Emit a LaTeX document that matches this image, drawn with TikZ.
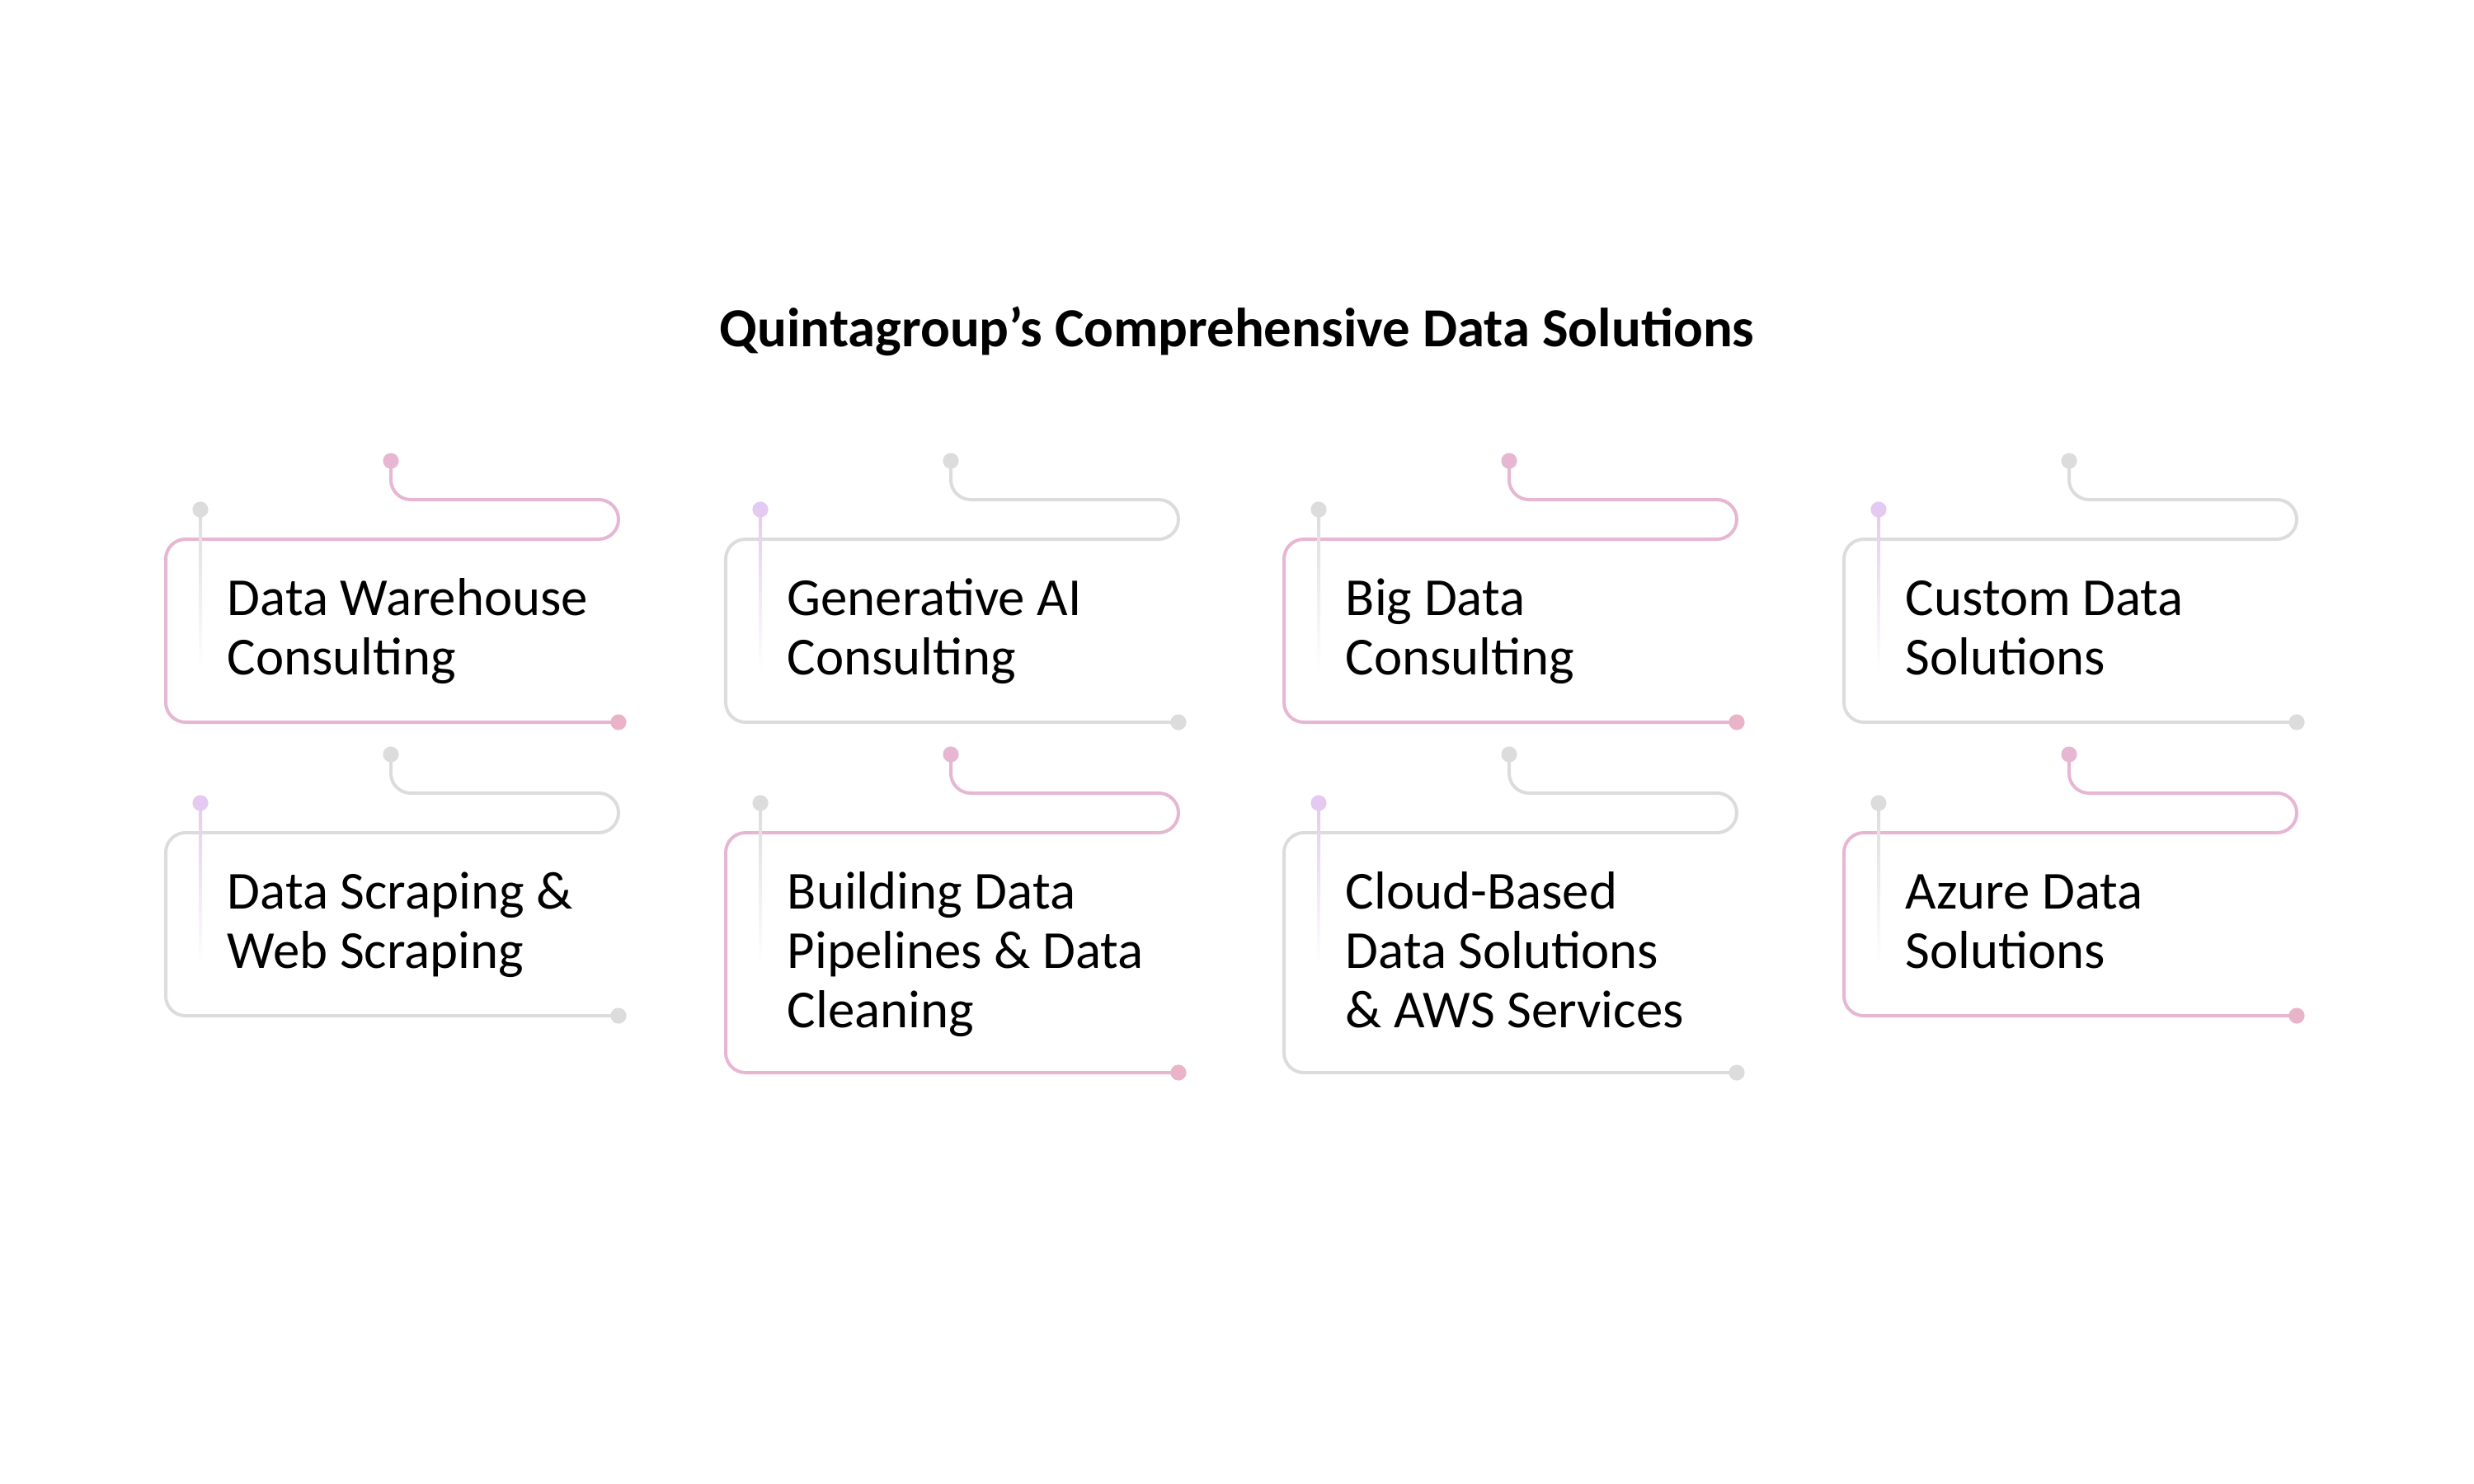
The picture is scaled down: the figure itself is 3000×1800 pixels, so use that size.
\documentclass[tikz,border=0pt]{standalone}
\usepackage{fontspec}
\setmainfont{Carlito}
\definecolor{pk}{HTML}{E6B6D2}
\definecolor{pkdot}{HTML}{E9B4C8}
\definecolor{gr}{HTML}{DCDCDC}
\definecolor{pu}{HTML}{E4CAF0}
\tikzset{
  wire/.style={line width=1pt,rounded corners=6pt,line cap=round},
  lbl/.style={anchor=base west,inner sep=0pt,font=\fontsize{16.2}{18}\selectfont,text=black},
}
% #1 name, #2 x0, #3 y0, #4 height, #5 wire colour, #6 end dot colour, #7 vertical colour, #8 text
\newcommand{\cardbox}[8]{%
  \draw[wire,#5] (#2+273,#3-95) -- (#2+273,#3-48) -- (#2+549,#3-48) -- (#2+549,#3) -- (#2,#3) -- (#2,#3+#4) -- (#2+549,#3+#4);
  \fill[#5] (#2+273,#3-95) circle (2.4pt);
  \fill[#6] (#2+549,#3+#4) circle (2.4pt);
  \shade[top color=#7,bottom color=white] (#2+40,#3-36) rectangle (#2+44,#3+160);
  \fill[#7] (#2+42,#3-36) circle (2.4pt);
  \node[lbl] (#1) at (#2+74,#3+92) {\begin{tabular}[t]{@{}l@{}}#8\end{tabular}};
}
\begin{document}
\begin{tikzpicture}[x=0.25pt,y=-0.25pt]
\useasboundingbox (0,0) rectangle (3000,1800);
\node[font=\fontsize{16.7}{20}\selectfont\bfseries,anchor=base] (title) at (1500,420) {Quintagroup’s Comprehensive Data Solutions};
\cardbox{c1}{201}{654}{222}{pk}{pkdot}{gr}{Data Warehouse\\Consulting}
\cardbox{c2}{880}{654}{222}{gr}{gr}{pu}{Generative AI\\Consulting}
\cardbox{c3}{1557}{654}{222}{pk}{pkdot}{gr}{Big Data\\Consulting}
\cardbox{c4}{2236}{654}{222}{gr}{gr}{pu}{Custom Data\\Solutions}
\cardbox{c5}{201}{1010}{222}{gr}{gr}{pu}{Data Scraping \&\\Web Scraping}
\cardbox{c6}{880}{1010}{291}{pk}{pkdot}{gr}{Building Data\\Pipelines \& Data\\Cleaning}
\cardbox{c7}{1557}{1010}{291}{gr}{gr}{pu}{Cloud-Based\\Data Solutions\\\& AWS Services}
\cardbox{c8}{2236}{1010}{222}{pk}{pkdot}{gr}{Azure Data\\Solutions}
\end{tikzpicture}
\end{document}
